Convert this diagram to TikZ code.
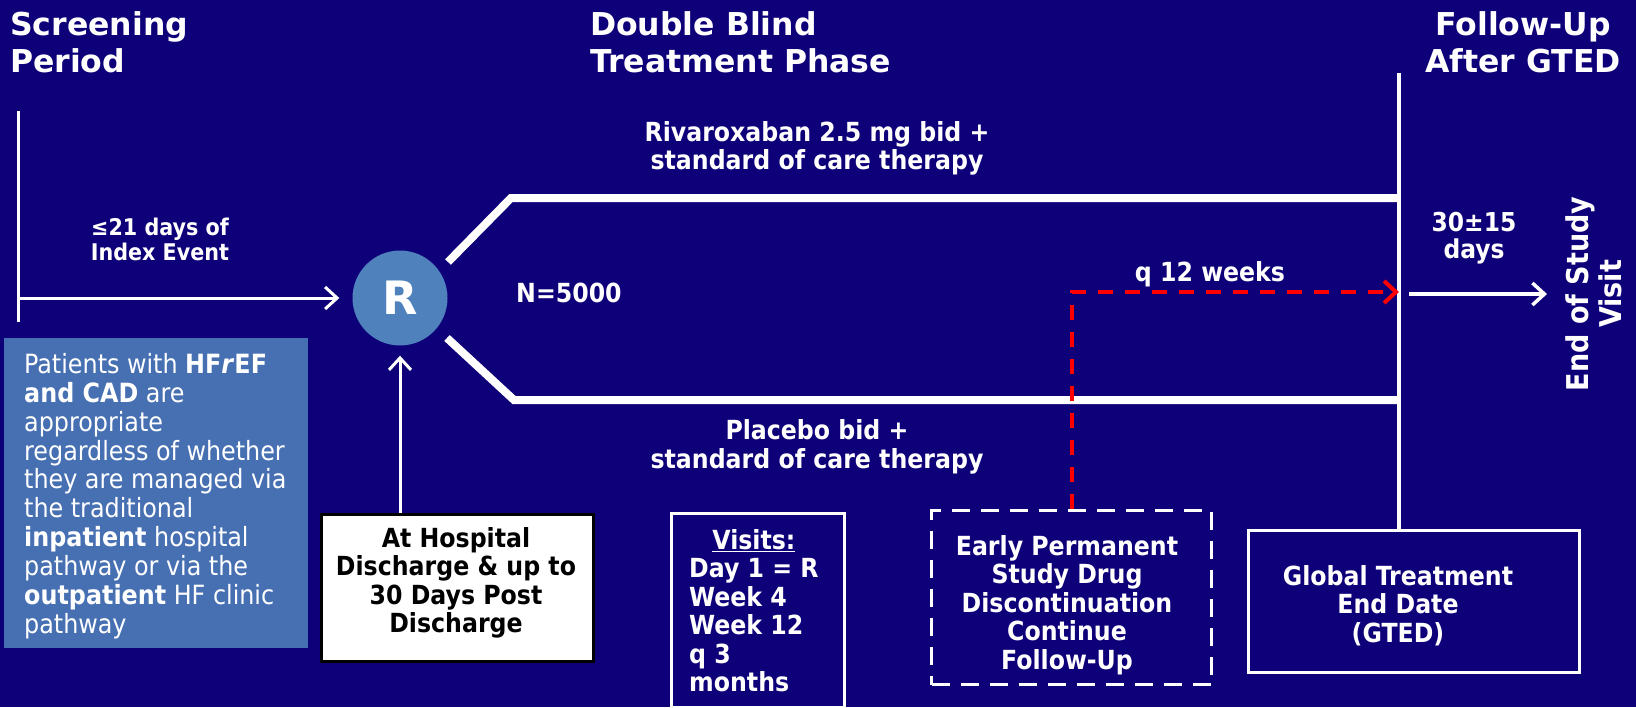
\documentclass[tikz,border=0pt]{standalone}
\usepackage{fontspec}
\setmainfont{DejaVu Sans Condensed}
\newfontfamily\headfont{DejaVu Sans}
\usetikzlibrary{arrows.meta}
\definecolor{bg}{RGB}{14,0,120}
\definecolor{lbox}{RGB}{71,112,178}
\definecolor{rcirc}{RGB}{79,129,189}
\definecolor{rdash}{RGB}{255,0,0}
\tikzset{
  headtxt/.style={text=white, inner sep=0pt, font=\headfont\bfseries\fontsize{31.5}{37}\selectfont},
  lbl/.style={text=white, inner sep=0pt, align=center, font=\bfseries\fontsize{26.3}{28.5}\selectfont},
  wrule/.style={draw=white, line width=3pt},
  branch/.style={draw=white, line width=8pt},
  chev/.style={-{Straight Barb[length=12pt,width=22pt]}},
  wbox/.style={draw=white, line width=3pt, inner sep=0pt, anchor=north west},
}
\begin{document}
\begin{tikzpicture}[x=1pt,y=-1pt]
\fill[bg] (0,0) rectangle (1636,707);
\useasboundingbox (0,0) rectangle (1636,707);

% headings
\node[headtxt, anchor=north west, align=left] (scr) at (10,11) {Screening\\Period};
\node[headtxt, anchor=north west, align=left] (dbt) at (590,11) {Double Blind\\Treatment Phase};
\node[headtxt, anchor=north, align=center] (fu) at (1523,11) {Follow-Up\\After GTED};

% randomisation circle
\node[circle, fill=rcirc, minimum size=95pt, inner sep=0pt, text=white,
      font=\headfont\bfseries\fontsize{46}{46}\selectfont] (R) at (400,298) {R};

% screening line and arrow
\coordinate (lt) at (18,111);
\coordinate (lb) at (18,322);
\coordinate (la) at (18,298);
\draw[wrule] (lt) -- (lb);
\draw[wrule, chev, shorten >=13pt] (la) -- (R.west);
\node[lbl, font=\bfseries\fontsize{23}{24.5}\selectfont, anchor=north] (d21) at (160,218) {≤21 days of\\Index Event};

% treatment arms
\coordinate (u1) at (448,262);
\coordinate (u2) at (511,198);
\coordinate (u3) at (1399,198);
\coordinate (l1) at (447,338);
\coordinate (l2) at (514,400);
\coordinate (l3) at (1399,400);
\draw[branch] (u1) -- (u2) -- (u3);
\draw[branch] (l1) -- (l2) -- (l3);
\node[lbl, anchor=north, font=\bfseries\fontsize{26.3}{28}\selectfont] (riv) at (817,121) {Rivaroxaban 2.5 mg bid +\\standard of care therapy};
\node[lbl, anchor=north, font=\bfseries\fontsize{26.3}{29}\selectfont] (plc) at (817,419) {Placebo bid +\\standard of care therapy};
\node[lbl, anchor=north west] (n) at (516,283) {N=5000};

% patient box
\node[fill=lbox, anchor=north west, minimum width=304pt, minimum height=310pt, inner sep=0pt] (pbox) at (4,338) {};
\node[text=white, anchor=north west, inner sep=0pt, align=left, font=\fontsize{26.5}{28.9}\selectfont] (ptxt) at (24,353)
 {Patients with \textbf{HF\textit{r}EF}\\\textbf{and CAD} are\\appropriate\\regardless of whether\\they are managed via\\the traditional\\\textbf{inpatient} hospital\\pathway or via the\\\textbf{outpatient} HF clinic\\pathway};

% hospital box
\node[draw=black, line width=3pt, fill=white, anchor=north west, minimum width=272pt, minimum height=147pt, inner sep=0pt] (hosp) at (320,513) {};
\node[lbl, text=black, anchor=north] (hospt) at (456,527) {At Hospital\\Discharge \& up to\\30 Days Post\\Discharge};
\draw[wrule, chev, shorten >=10pt] (hosp.north -| R.south) -- (R.south);

% visits box
\node[wbox, minimum width=173pt, minimum height=194pt] (vis) at (670,512) {};
\node[lbl, anchor=north west] (vist) at (689,529) {\begin{tabular}{@{}l@{}}\multicolumn{1}{@{}c@{}}{\underline{Visits:}}\\Day 1 = R\\Week 4\\Week 12\\q 3\\months\end{tabular}};

% early discontinuation box
\node[wbox, dash pattern=on 18pt off 11pt, minimum width=280pt, minimum height=174pt] (early) at (930,509) {};
\node[lbl, anchor=north] (earlyt) at (1067,535) {Early Permanent\\Study Drug\\Discontinuation\\Continue\\Follow-Up};

% GTED box and line
\node[wbox, minimum width=331pt, minimum height=142pt] (gted) at (1247,529) {};
\node[lbl, anchor=north] (gtedt) at (1398,565) {Global Treatment\\End Date\\(GTED)};
\coordinate (vt) at (1399,73);
\draw[white, line width=4pt] (vt) -- (vt |- gted.north);

% red dashed follow-up
\coordinate (redtip) at (1399,292);
\draw[rdash, line width=4pt, dash pattern=on 15pt off 12pt, -{Straight Barb[length=12pt,width=22pt]}] (early.north) |- (redtip);
\node[lbl, anchor=north] (q12) at (1210,261) {q 12 weeks};

% end of study
\coordinate (ws) at (1409,294);
\coordinate (we) at (1547,294);
\draw[white, line width=3.5pt, chev] (ws) -- (we);
\node[lbl, anchor=north, font=\bfseries\fontsize{26}{27}\selectfont] (d30) at (1474,212) {30±15\\days};
\node[lbl, rotate=90, font=\bfseries\fontsize{30}{33}\selectfont] (eos) at (1594,294) {End of Study\\Visit};
\end{tikzpicture}
\end{document}
